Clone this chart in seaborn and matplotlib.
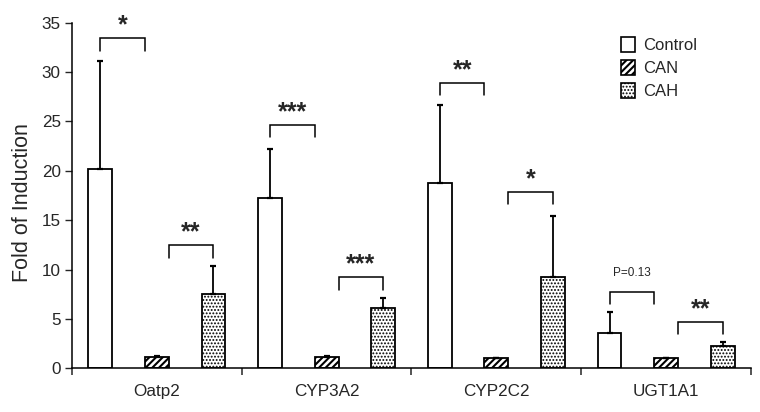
import numpy as np
import pandas as pd
import matplotlib
matplotlib.use("Agg")
import matplotlib.pyplot as plt
import seaborn as sns
from matplotlib.patches import Patch

# ---------------- data ----------------
genes = ["Oatp2", "CYP3A2", "CYP2C2", "UGT1A1"]
groups = ["Control", "CAN", "CAH"]
control_mean = [20.15, 17.2, 18.75, 3.55]
control_err = [10.95, 5.0, 7.95, 2.2]
can_mean = [1.1, 1.1, 1.07, 1.07]
can_err = [0.15, 0.15, 0.0, 0.0]
cah_mean = [7.5, 6.1, 9.2, 2.3]
cah_err = [2.9, 1.05, 6.2, 0.35]

sig_gene = ["Oatp2", "Oatp2", "CYP3A2", "CYP3A2", "CYP2C2", "CYP2C2", "UGT1A1", "UGT1A1"]
sig_pair = ["Control-CAN", "CAN-CAH"] * 4
sig_y = [33.4, 12.45, 24.65, 9.2, 28.9, 17.85, 7.75, 4.7]
sig_label = ["*", "**", "***", "***", "**", "*", "P=0.13", "**"]
y_ticks = [0, 5, 10, 15, 20, 25, 30, 35]

# ---------------- style ----------------
sns.set_style("ticks")
plt.rcParams["font.family"] = ["Liberation Sans", "DejaVu Sans"]
plt.rcParams["hatch.linewidth"] = 0.9
plt.rcParams["hatch.color"] = "black"

df = pd.DataFrame({
    "gene": genes * 3,
    "group": [g for g in groups for _ in genes],
    "value": control_mean + can_mean + cah_mean,
})
errs = control_err + can_err + cah_err

fig = plt.figure(figsize=(7.6, 4.12), dpi=100)
ax = fig.add_axes([72 / 760, 43.7 / 412, 679 / 760, 345.6 / 412])

sns.barplot(data=df, x="gene", y="value", hue="group", order=genes,
            hue_order=groups, palette={g: "white" for g in groups},
            edgecolor="black", linewidth=1.3, width=1.0, gap=0.58,
            errorbar=None, legend=False, ax=ax)

hatches = {"Control": "", "CAN": "/////", "CAH": "....."}
hatch_lw = {"Control": 0.9, "CAN": 1.5, "CAH": 0.9}
bars = ax.patches[:12]
for i, p in enumerate(bars):
    g = groups[i // 4]
    p.set_hatch(hatches[g])
    p.set_edgecolor("black")
    if hasattr(p, "set_hatch_linewidth"):
        p.set_hatch_linewidth(hatch_lw[g])

xs = [p.get_x() + p.get_width() / 2 for p in bars]
tops = [p.get_height() for p in bars]
ax.errorbar(xs, tops, yerr=[np.zeros(len(errs)), errs], fmt="none",
            ecolor="black", elinewidth=1.3, capsize=2.5, capthick=1.6, zorder=5)

# significance brackets
leg = 1.25
for g, pair, yb, lab in zip(sig_gene, sig_pair, sig_y, sig_label):
    gi = genes.index(g)
    c = bars[gi]
    n = bars[4 + gi]
    h = bars[8 + gi]
    if pair == "Control-CAN":
        x0 = c.get_x() + c.get_width() / 2
        x1 = n.get_x()
    else:
        x0 = n.get_x() + n.get_width()
        x1 = h.get_x() + h.get_width() / 2
    ax.plot([x0, x0, x1, x1], [yb - leg, yb, yb, yb - leg], color="black",
            lw=1.1, solid_joinstyle="miter", zorder=6)
    if lab.startswith("P"):
        ax.annotate(lab, xy=((x0 + x1) / 2, yb), xytext=(0, 11),
                    textcoords="offset points", ha="center", va="baseline",
                    fontsize=8.5)
    else:
        ax.annotate(lab, xy=((x0 + x1) / 2, yb), xytext=(0, 4.3),
                    textcoords="offset points", ha="center", va="baseline",
                    fontsize=18, fontweight="bold")

ax.set_ylim(0, 35)
ax.set_xlim(-0.5, 3.5)
ax.set_yticks(y_ticks)
ax.tick_params(axis="y", direction="out", length=5, width=1, pad=3, labelsize=12.3)
ax.set_xticks(range(len(genes)))
ax.set_xticklabels(genes)
ax.tick_params(axis="x", which="major", length=0, pad=11, labelsize=12.3)
ax.set_xticks([-0.5, 0.5, 1.5, 2.5, 3.5], minor=True)
ax.tick_params(axis="x", which="minor", direction="out", length=5, width=1.1)
ax.set_xlabel("")
ax.set_ylabel("")
for s in ["top", "right"]:
    ax.spines[s].set_visible(False)
for s in ["left", "bottom"]:
    ax.spines[s].set_linewidth(1.1)
    ax.spines[s].set_color("black")

fig.text(22.7 / 760, 0.508, "Fold of Induction", rotation=90, ha="center",
         va="center", fontsize=15.5)

handles = [Patch(facecolor="white", edgecolor="black", hatch=hatches[g], linewidth=1.2)
           for g in groups]
lg = fig.legend(handles, groups, loc="upper left", bbox_to_anchor=(621 / 760, 1 - 37 / 412),
                frameon=False, fontsize=12, handlelength=0.85, handleheight=1.0,
                handletextpad=0.45, labelspacing=0.42, borderpad=0, borderaxespad=0)
for hp, g in zip(lg.get_patches(), groups):
    if hasattr(hp, "set_hatch_linewidth"):
        hp.set_hatch_linewidth(hatch_lw[g])

fig.savefig("out.png", dpi=100)
